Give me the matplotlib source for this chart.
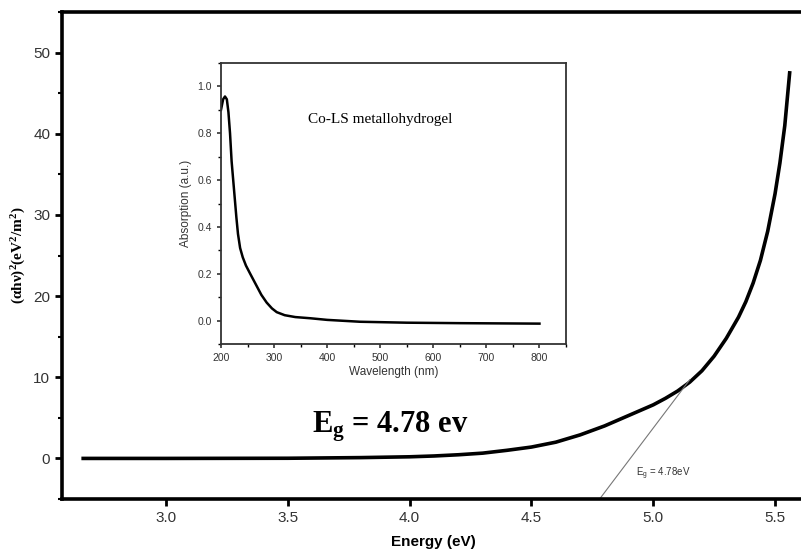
import numpy as np
import matplotlib.pyplot as plt
from matplotlib.ticker import MultipleLocator

plt.rcParams['mathtext.fontset'] = 'custom'
plt.rcParams['mathtext.rm'] = 'Liberation Serif'
plt.rcParams['mathtext.bf'] = 'Liberation Serif:bold'
plt.rcParams['mathtext.it'] = 'Liberation Serif:italic'
plt.rcParams['mathtext.sf'] = 'Liberation Sans'

# main Tauc plot data
energy = [2.66, 3.0, 3.5, 3.8, 4.0, 4.1, 4.2, 4.3, 4.4, 4.5, 4.6, 4.7, 4.8, 4.9,
          5.0, 5.05, 5.1, 5.15, 5.2, 5.25, 5.3, 5.35, 5.38, 5.41, 5.44, 5.47,
          5.5, 5.52, 5.54, 5.56]
ahv2 = [0, 0, 0.02, 0.1, 0.2, 0.3, 0.45, 0.65, 1.0, 1.4, 2.0, 2.9, 4.0, 5.3,
        6.6, 7.4, 8.3, 9.4, 10.8, 12.6, 14.8, 17.4, 19.3, 21.6, 24.4, 28.0,
        32.6, 36.4, 41.0, 47.5]

# tangent (extrapolation) line
tan_x = [4.78, 5.15]
tan_y = [-5, 9.7]

# inset absorption spectrum
wavelength = [200, 204, 207.5, 211, 214, 217, 220, 223, 226, 229, 232, 236, 241,
              247, 255, 262, 269, 276, 286, 296, 305, 320, 340, 368, 400, 462,
              550, 650, 800]
absorb = [0.90, 0.945, 0.957, 0.945, 0.89, 0.80, 0.68, 0.60, 0.52, 0.44, 0.37,
          0.31, 0.27, 0.235, 0.20, 0.17, 0.14, 0.11, 0.077, 0.052, 0.036, 0.023,
          0.015, 0.01, 0.003, -0.005, -0.009, -0.011, -0.013]

fig = plt.figure(figsize=(8.01, 5.56), dpi=100)

# ---- main axes ----
ax = fig.add_axes([62 / 801, 57 / 556, 743 / 801, 487 / 556])
ax.plot(energy, ahv2, color='black', lw=2.6)
ax.plot(tan_x, tan_y, color='#777777', lw=0.8)

ax.set_xlim(2.573, 5.623)
ax.set_ylim(-5, 55)
ax.xaxis.set_major_locator(MultipleLocator(0.5))
ax.yaxis.set_major_locator(MultipleLocator(10))
ax.yaxis.set_minor_locator(MultipleLocator(5))
for s in ax.spines.values():
    s.set_linewidth(2.6)
ax.tick_params(axis='both', which='major', direction='out', length=5, width=2,
               labelsize=11, colors='black')
ax.tick_params(axis='y', which='minor', direction='out', length=3, width=1.5)
for lab in ax.get_xticklabels() + ax.get_yticklabels():
    lab.set_family('Liberation Sans')
    lab.set_color('#333333')

ax.set_xlabel('Energy (eV)', family='Liberation Sans', fontsize=11,
              fontweight='bold', labelpad=7)
ax.set_ylabel(r'(αhν)$^\mathbf{2}$(eV$^\mathbf{2}$/m$^\mathbf{2}$)',
              family='Liberation Serif', fontsize=11, fontweight='bold', labelpad=4)

ax.text(3.92, 1.8, r'E$_\mathbf{g}$ = 4.78 ev', family='Liberation Serif',
        fontsize=22, fontweight='bold', ha='center', va='bottom')
ax.text(4.93, -1.9, r'E$_\mathsf{g}$ = 4.78eV', family='Liberation Sans',
        fontsize=7, color='#333333', ha='left', va='center')

# ---- inset axes ----
ins = fig.add_axes([221 / 801, 212 / 556, 345 / 801, 281 / 556])
ins.plot(wavelength, absorb, color='black', lw=1.8)
ins.set_xlim(200, 850)
ins.set_ylim(-0.1, 1.1)
ins.xaxis.set_major_locator(MultipleLocator(100))
ins.xaxis.set_minor_locator(MultipleLocator(50))
ins.yaxis.set_major_locator(MultipleLocator(0.2))
ins.yaxis.set_minor_locator(MultipleLocator(0.1))
ins.xaxis.set_major_formatter(plt.FuncFormatter(lambda v, p: f'{v:.0f}'))
ins.yaxis.set_major_formatter(plt.FuncFormatter(lambda v, p: f'{v:.1f}'))
for s in ins.spines.values():
    s.set_linewidth(1.3)
    s.set_color('#333333')
ins.tick_params(axis='both', which='major', direction='out', length=3, width=1.2,
                labelsize=7.5, colors='#333333')
ins.tick_params(axis='both', which='minor', direction='out', length=2, width=1)
for lab in ins.get_xticklabels() + ins.get_yticklabels():
    lab.set_family('Liberation Sans')
ins.set_xlabel('Wavelength (nm)', family='Liberation Sans', fontsize=8.5,
               color='#333333', labelpad=2)
ins.set_ylabel('Absorption (a.u.)', family='Liberation Sans', fontsize=8.5,
               color='#333333', labelpad=4)
ins.text(0.46, 0.80, 'Co-LS metallohydrogel', transform=ins.transAxes,
         family='Liberation Serif', fontsize=11, ha='center', va='center')

fig.savefig('out.png', dpi=100)
